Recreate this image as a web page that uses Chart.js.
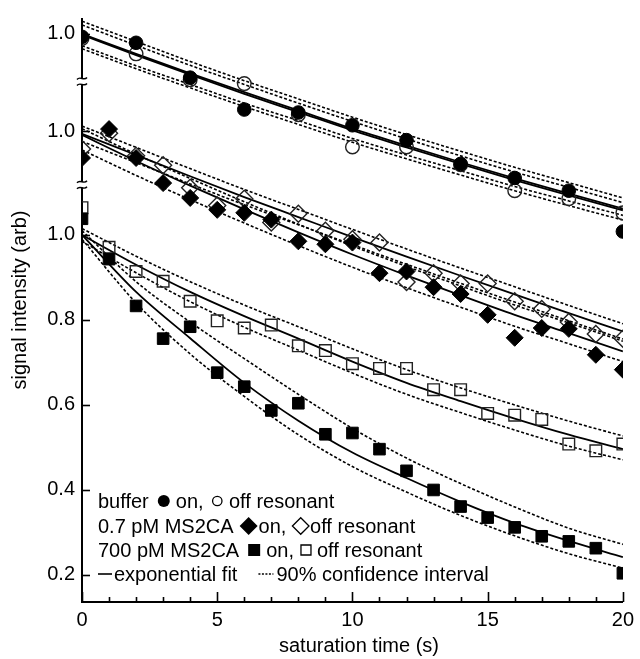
<!DOCTYPE html>
<html>
<head>
<meta charset="utf-8">
<script src="https://cdn.jsdelivr.net/npm/chart.js@4.4.1/dist/chart.umd.min.js"></script>
<style>
  body { margin: 0; background: #fff; }
  canvas { display: block; }
</style>
</head>
<body>
<canvas id="myChart" width="640" height="659"></canvas>
<script>
// saturation times (s)
const timeAll = [0,1,2,3,4,5,6,7,8,9,10,11,12,13,14,15,16,17,18,19,20];
const timeEven = [0,2,4,6,8,10,12,14,16,18,20];

// y values are in plot units: bottom panel is the real scale, the two upper
// panels are shifted up (their "1.0" sits at 1.244 and 1.473)
const yTickValues = [0.2, 0.4, 0.6, 0.8, 1.0, 1.244, 1.473];
const yTickLabels = ['0.2', '0.4', '0.6', '0.8', '1.0', '1.0', '1.0'];
const yBreaks = [1.118, 1.361];
const yMin = 0.1364, yMax = 1.508;

// buffer (circles, even times only)
const bufferOn  = [1.466, 1.452, 1.370, 1.295, 1.288, 1.258, 1.223, 1.167, 1.134, 1.104, 1.008];
const bufferOff = [1.462, 1.426, 1.365, 1.356, 1.283, 1.207, 1.207, 1.165, 1.104, 1.085, 1.052];
const bufferFitOn  = [1.471, 1.423, 1.377, 1.332, 1.289, 1.246, 1.206, 1.167, 1.129, 1.093, 1.058];
const bufferFitOff = [1.473, 1.426, 1.380, 1.336, 1.293, 1.250, 1.210, 1.171, 1.133, 1.097, 1.062];
const bufferCiUpA = [1.503, 1.455, 1.408, 1.363, 1.320, 1.277, 1.236, 1.197, 1.159, 1.123, 1.087];
const bufferCiUpB = [1.494, 1.446, 1.399, 1.354, 1.310, 1.267, 1.226, 1.186, 1.148, 1.112, 1.076];
const bufferCiLoA = [1.445, 1.398, 1.354, 1.310, 1.269, 1.227, 1.188, 1.151, 1.114, 1.080, 1.046];
const bufferCiLoB = [1.438, 1.391, 1.346, 1.302, 1.260, 1.218, 1.179, 1.141, 1.104, 1.069, 1.035];

// 0.7 pM MS2CA (diamonds)
const lowOn  = [1.181, 1.249, 1.181, 1.122, 1.087, 1.059, 1.052, 1.036, 0.985, 0.978, 0.982, 0.910, 0.914, 0.877, 0.861, 0.812, 0.758, 0.781, 0.779, 0.718, 0.683];
const lowOff = [1.202, 1.239, 1.186, 1.164, 1.111, 1.069, 1.085, 1.029, 1.050, 1.010, 0.990, 0.982, 0.889, 0.910, 0.886, 0.886, 0.844, 0.826, 0.795, 0.767, 0.756];
const lowFitOff  = [1.238, 1.188, 1.138, 1.089, 1.042, 0.995, 0.949, 0.904, 0.860, 0.816, 0.773];
const lowCiOffUp = [1.256, 1.206, 1.156, 1.107, 1.060, 1.013, 0.967, 0.922, 0.878, 0.834, 0.791];
const lowCiOffLo = [1.220, 1.170, 1.120, 1.071, 1.024, 0.977, 0.931, 0.886, 0.842, 0.798, 0.755];
const lowFitOn  = [1.235, 1.174, 1.116, 1.060, 1.006, 0.954, 0.905, 0.858, 0.812, 0.769, 0.726];
const lowCiOnUp = [1.250, 1.190, 1.133, 1.078, 1.025, 0.974, 0.926, 0.880, 0.835, 0.793, 0.750];
const lowCiOnLo = [1.200, 1.140, 1.083, 1.028, 0.975, 0.924, 0.876, 0.830, 0.785, 0.744, 0.702];

// 700 pM MS2CA (squares)
const highOn  = [1.038, 0.943, 0.833, 0.756, 0.784, 0.676, 0.643, 0.587, 0.604, 0.531, 0.534, 0.496, 0.445, 0.400, 0.361, 0.335, 0.312, 0.291, 0.279, 0.263, 0.204];
const highOff = [1.064, 0.971, 0.914, 0.891, 0.844, 0.798, 0.781, 0.788, 0.739, 0.728, 0.697, 0.686, 0.686, 0.636, 0.636, 0.580, 0.576, 0.566, 0.508, 0.492, 0.508];
const highFitOff  = [1.000, 0.930, 0.866, 0.809, 0.756, 0.702, 0.652, 0.609, 0.568, 0.530, 0.496];
const highCiOffUp = [1.015, 0.950, 0.890, 0.835, 0.784, 0.732, 0.683, 0.640, 0.600, 0.562, 0.527];
const highCiOffLo = [0.985, 0.911, 0.843, 0.783, 0.729, 0.675, 0.625, 0.582, 0.541, 0.503, 0.471];
const highFitOn  = [1.000, 0.866, 0.757, 0.652, 0.563, 0.488, 0.428, 0.372, 0.322, 0.280, 0.242];
const highCiOnUp = [1.010, 0.890, 0.795, 0.709, 0.625, 0.545, 0.475, 0.415, 0.360, 0.310, 0.272];
const highCiOnLo = [0.990, 0.840, 0.720, 0.620, 0.530, 0.455, 0.395, 0.340, 0.292, 0.250, 0.216];

const FONT = "'Liberation Sans', Arial, Helvetica, sans-serif";

function pts(xs, ys) {
  return xs.map(function(x, i) { return { x: x, y: ys[i] }; });
}

function fitLine(ys, dotted) {
  return {
    data: pts(timeEven, ys),
    showLine: true,
    pointRadius: 0,
    borderColor: '#000',
    borderWidth: dotted ? 1.6 : 1.8,
    borderDash: dotted ? [3, 2] : [],
    cubicInterpolationMode: 'monotone',
    order: 5
  };
}

function markers(xs, ys, style, r, filled) {
  return {
    data: pts(xs, ys),
    showLine: false,
    pointStyle: style,
    pointRadius: r,
    pointHoverRadius: r,
    pointBackgroundColor: filled ? '#000' : 'rgba(255,255,255,0)',
    pointBorderColor: filled ? '#000' : '#222',
    pointBorderWidth: filled ? 1 : 1.4,
    order: filled ? 0 : 1
  };
}

const datasets = [
  fitLine(bufferFitOn, false), fitLine(bufferFitOff, false),
  fitLine(bufferCiUpA, true), fitLine(bufferCiUpB, true),
  fitLine(bufferCiLoA, true), fitLine(bufferCiLoB, true),
  fitLine(lowFitOn, false), fitLine(lowFitOff, false),
  fitLine(lowCiOnUp, true), fitLine(lowCiOnLo, true),
  fitLine(lowCiOffUp, true), fitLine(lowCiOffLo, true),
  fitLine(highFitOn, false), fitLine(highFitOff, false),
  fitLine(highCiOnUp, true), fitLine(highCiOnLo, true),
  fitLine(highCiOffUp, true), fitLine(highCiOffLo, true),
  markers(timeEven, bufferOn, 'circle', 6.8, true),
  markers(timeEven, bufferOff, 'circle', 6.8, false),
  markers(timeAll, lowOn, 'rectRot', 8.5, true),
  markers(timeAll, lowOff, 'rectRot', 8.5, false),
  markers(timeAll, highOn, 'rect', 8.2, true),
  markers(timeAll, highOff, 'rect', 8.2, false)
];

function drawSym(ctx, kind, x, y, s) {
  ctx.beginPath();
  if (kind === 'dot' || kind === 'ring') {
    ctx.arc(x, y, s, 0, Math.PI * 2);
  } else if (kind === 'diamond' || kind === 'diamondOpen') {
    ctx.moveTo(x - s, y); ctx.lineTo(x, y - s); ctx.lineTo(x + s, y); ctx.lineTo(x, y + s); ctx.closePath();
  } else {
    ctx.rect(x - s, y - s, 2 * s, 2 * s);
  }
  if (kind === 'dot' || kind === 'diamond' || kind === 'square') ctx.fill(); else ctx.stroke();
}

// legend rows, laid out left to right: [kind, text or half size, gap after]
const legendRows = [
  { y: 508, items: [['t', 'buffer', 9], ['dot', 6, 6], ['t', 'on,', 9], ['ring', 4.7, 7], ['t', 'off resonant', 0]] },
  { y: 533, items: [['t', '0.7 pM MS2CA', 6], ['diamond', 9, 1], ['t', 'on,', 6], ['diamondOpen', 8.3, 1], ['t', 'off resonant', 0]] },
  { y: 557, items: [['t', '700 pM MS2CA', 9], ['square', 6, 6], ['t', 'on,', 7], ['box', 5, 6], ['t', 'off resonant', 0]] },
  { y: 581, items: [['solid', 14, 2], ['t', 'exponential fit', 21], ['dots', 15, 3], ['t', '90% confidence interval', 0]] }
];

const decor = {
  id: 'decor',
  afterDraw: function(chart) {
    const ctx = chart.ctx;
    const a = chart.chartArea;
    const xs = chart.scales.x, ys = chart.scales.y;
    ctx.save();
    ctx.strokeStyle = '#000';
    ctx.fillStyle = '#000';

    // inward tick marks
    ctx.lineWidth = 1.6;
    for (var t = 0; t <= 20; t++) {
      var px = Math.round(xs.getPixelForValue(t)) + 0.5;
      var len = (t % 5 === 0) ? 10 : 5;
      ctx.beginPath(); ctx.moveTo(px, a.bottom); ctx.lineTo(px, a.bottom - len); ctx.stroke();
    }
    yTickValues.forEach(function(v) {
      var py = Math.round(ys.getPixelForValue(v)) + 0.5;
      ctx.beginPath(); ctx.moveTo(a.left, py); ctx.lineTo(a.left + 8, py); ctx.stroke();
    });

    // axis breaks
    yBreaks.forEach(function(v) {
      var py = ys.getPixelForValue(v);
      ctx.fillStyle = '#fff';
      ctx.fillRect(a.left - 3, py - 3, 6, 6);
      ctx.lineWidth = 1.4;
      [-3, 3].forEach(function(d) {
        ctx.beginPath();
        ctx.moveTo(a.left - 5, py + d + 1);
        ctx.bezierCurveTo(a.left - 2, py + d - 3, a.left + 2, py + d + 3, a.left + 5, py + d - 1);
        ctx.stroke();
      });
    });

    // legend block
    ctx.fillStyle = '#000';
    ctx.font = '20px ' + FONT;
    ctx.textBaseline = 'alphabetic';
    ctx.textAlign = 'left';
    legendRows.forEach(function(row) {
      var x = a.left + 16;
      var mid = row.y - 7;
      row.items.forEach(function(p) {
        if (p[0] === 't') {
          ctx.fillText(p[1], x, row.y);
          x += ctx.measureText(p[1]).width + p[2];
        } else if (p[0] === 'solid' || p[0] === 'dots') {
          var dotted = p[0] === 'dots';
          ctx.lineWidth = dotted ? 1.4 : 1.6;
          ctx.setLineDash(dotted ? [2, 1.5] : []);
          ctx.beginPath(); ctx.moveTo(x, mid); ctx.lineTo(x + p[1], mid); ctx.stroke();
          ctx.setLineDash([]);
          x += p[1] + p[2];
        } else {
          ctx.lineWidth = 1.3;
          drawSym(ctx, p[0], x + p[1], mid, p[1]);
          x += 2 * p[1] + p[2];
        }
      });
    });

    // axis titles
    ctx.textAlign = 'center';
    ctx.textBaseline = 'middle';
    ctx.fillText('saturation time (s)', 359, 646);
    ctx.translate(20, 300);
    ctx.rotate(-Math.PI / 2);
    ctx.fillText('signal intensity (arb)', 0, 0);
    ctx.restore();
  }
};

const ctx = document.getElementById('myChart');
new Chart(ctx, {
  type: 'scatter',
  data: { datasets: datasets },
  options: {
    responsive: false,
    animation: false,
    layout: { padding: { top: 15, right: 15, left: 0, bottom: 0 } },
    plugins: { legend: { display: false }, tooltip: { enabled: false } },
    scales: {
      x: {
        type: 'linear',
        min: 0,
        max: 20,
        grid: { display: false, drawTicks: false },
        border: { display: true, color: '#000', width: 2 },
        ticks: { stepSize: 5, padding: 6, color: '#000', font: { family: FONT, size: 20 } },
        afterFit: function(s) { s.height = 57; }
      },
      y: {
        type: 'linear',
        min: yMin,
        max: yMax,
        grid: { display: false, drawTicks: false },
        border: { display: true, color: '#000', width: 2 },
        afterBuildTicks: function(s) { s.ticks = yTickValues.map(function(v) { return { value: v }; }); },
        ticks: {
          autoSkip: false,
          padding: 7,
          color: '#000',
          font: { family: FONT, size: 20 },
          callback: function(v, i) { return yTickLabels[i]; }
        },
        afterFit: function(s) { s.width = 82; }
      }
    }
  },
  plugins: [decor]
});
</script>
</body>
</html>
